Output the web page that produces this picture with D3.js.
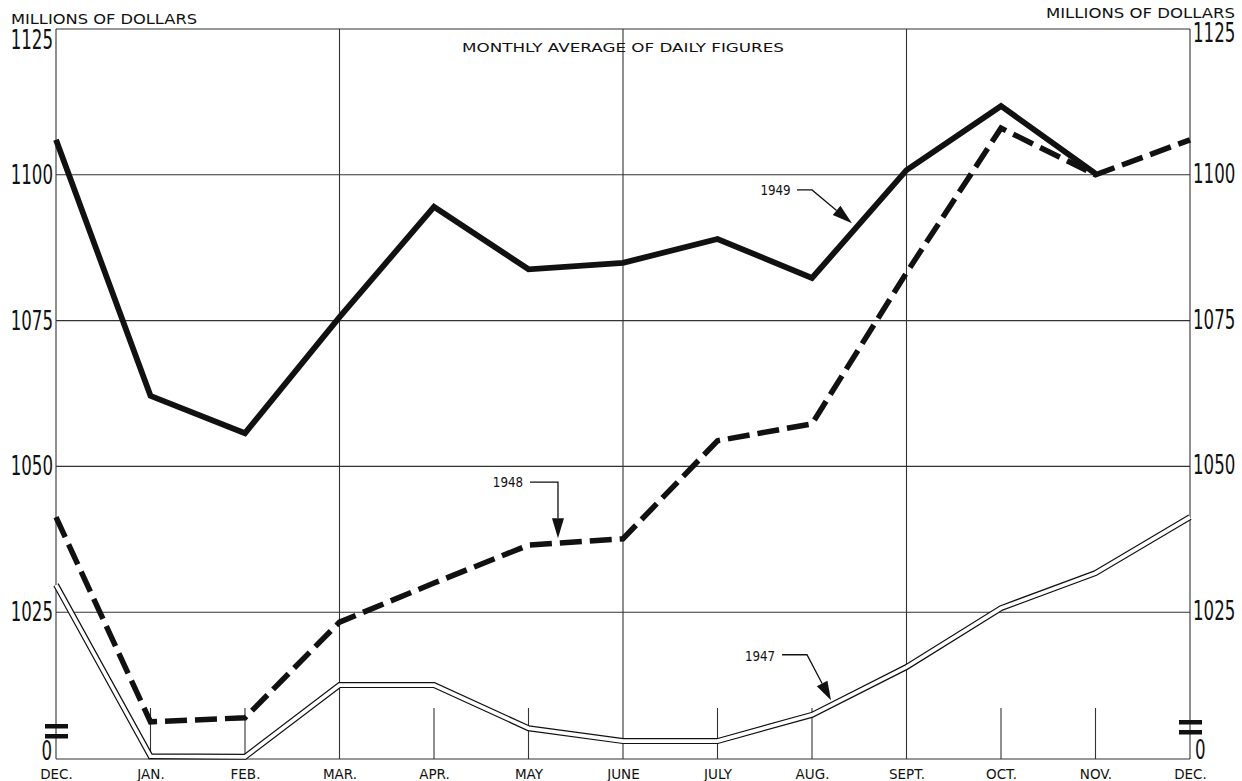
<!DOCTYPE html>
<html><head><meta charset="utf-8">
<script src="https://cdn.jsdelivr.net/npm/d3@7"></script>
<style>body{margin:0;background:#fff}svg{display:block}</style>
</head><body>
<svg id="c" width="1242" height="781"></svg>
<script>
// ---- data ----
const months = ["DEC.","JAN.","FEB.","MAR.","APR.","MAY","JUNE","JULY","AUG.","SEPT.","OCT.","NOV.","DEC."];
const values1947 = [1029.7,1000.3,1000.2,1012.5,1012.5,1005.1,1002.9,1002.9,1007.4,1015.6,1025.7,1031.7,1041.3];
const values1948 = [1041.3,1006.2,1006.9,1023.3,1030.0,1036.5,1037.6,1054.4,1057.3,1083.2,1108.0,1100.0,1106.0];
const values1949 = [1106.0,1062.1,1055.7,1075.6,1094.5,1083.8,1084.9,1089.0,1082.3,1100.8,1111.8,1100.2];
const yTicks = [1025,1050,1075,1100,1125];
const yTickLabels = ["1025","1050","1075","1100","1125"];
const fullGridMonths = [3,6,9];
const seriesLabels = ["1947","1948","1949"];
// annotation positions in data space: [monthIndex, value]
const label1949 = [7.614,1096.5], leader1949 = [[7.841,1097.4],[8.0,1097.4],[8.423,1091.7]];
const label1948 = [4.783,1046.5], leader1948 = [[5.016,1047.3],[5.312,1047.3],[5.312,1037.7]];
const label1947 = [7.45,1016.6],  leader1947 = [[7.683,1017.7],[7.947,1017.7],[8.201,1009.9]];

// ---- scales ----
const svg = d3.select("#c");
const x = d3.scalePoint().domain(d3.range(months.length)).range([56,1190]);
const xl = d3.scaleLinear().domain([0,12]).range([56,1190]);
const y = d3.scaleLinear().domain([1000,1125]).range([758,29]);
const ink = "#111";
const font = "'DejaVu Sans', 'Liberation Sans', sans-serif";

const x0 = x(0), x1 = x(12), yb = y(1000), yt = y(1125);

// frame & grid
const g = svg.append("g").attr("stroke", "#333").attr("stroke-width", 1.1).attr("fill","none");
g.append("line").attr("x1",x0).attr("x2",x1).attr("y1",yt).attr("y2",yt);
g.append("line").attr("x1",x0).attr("x2",x1).attr("y1",yb+1).attr("y2",yb+1);
g.append("line").attr("x1",x0).attr("x2",x0).attr("y1",yt).attr("y2",yb+1);
g.append("line").attr("x1",x1).attr("x2",x1).attr("y1",yt).attr("y2",yb+1);
g.selectAll(".hg").data(yTicks.filter(v=>v<1125)).join("line")
  .attr("x1",x0).attr("x2",x1).attr("y1",d=>y(d)).attr("y2",d=>y(d));
g.selectAll(".vg").data(d3.range(1,12)).join("line")
  .attr("x1",d=>x(d)).attr("x2",d=>x(d))
  .attr("y1",d=>fullGridMonths.includes(d)?yt:yb-50).attr("y2",yb+1);

// axis breaks
[[x0,-11,12,726],[x1,-11,12,722]].forEach(([cx,a,b,yy])=>{
  [0,10].forEach(o=>svg.append("rect").attr("x",cx+a).attr("width",b-a).attr("y",yy+o-2).attr("height",4.5).attr("fill",ink));
});

// y labels (narrow lettering via horizontal scale)
const numSize = 26, sx = 0.64;
function num(X, Y, anchor, t){
  svg.append("text").attr("transform",`translate(${X},${Y}) scale(${sx},1)`)
    .attr("text-anchor",anchor).attr("font-family",font).attr("font-size",numSize).attr("fill",ink).text(t);
}
yTicks.forEach((v,i)=>{
  num(53, v===1125?49:y(v)+9, "end", yTickLabels[i]);
  num(1193, v===1125?42:y(v)+8, "start", yTickLabels[i]);
});
num(52, 760, "end", "0");
num(1195, 759, "start", "0");

// unit labels & title
svg.append("text").attr("x",11).attr("y",24).attr("font-family",font).attr("font-size",14)
  .attr("textLength",186).attr("lengthAdjust","spacingAndGlyphs").attr("fill",ink).text("MILLIONS OF DOLLARS");
svg.append("text").attr("x",1046).attr("y",18).attr("font-family",font).attr("font-size",14)
  .attr("textLength",189).attr("lengthAdjust","spacingAndGlyphs").attr("fill",ink).text("MILLIONS OF DOLLARS");
svg.append("text").attr("x",(x0+x1)/2).attr("y",52).attr("text-anchor","middle").attr("font-family",font)
  .attr("font-size",13).attr("textLength",322).attr("lengthAdjust","spacingAndGlyphs").attr("fill",ink)
  .text("MONTHLY AVERAGE OF DAILY FIGURES");

// month labels via axis
const ax = svg.append("g").attr("transform",`translate(0,${yb})`)
  .call(d3.axisBottom(x).tickSize(0).tickFormat(i=>months[i]));
ax.select(".domain").remove();
ax.selectAll("text").attr("y",21).attr("dy",0).attr("font-family",font).attr("font-size",13.5).attr("fill",ink);

// lines
const line = d3.line().x((d,i)=>x(i)).y(d=>y(d));
svg.append("path").attr("d",line(values1947)).attr("fill","none").attr("stroke",ink).attr("stroke-width",6).attr("stroke-linejoin","miter");
svg.append("path").attr("d",line(values1947)).attr("fill","none").attr("stroke","#fff").attr("stroke-width",3.6).attr("stroke-linejoin","miter");
svg.append("path").attr("d",line(values1948)).attr("fill","none").attr("stroke",ink).attr("stroke-width",5.5)
  .attr("stroke-dasharray","22,8").attr("stroke-linejoin","miter");
svg.append("path").attr("d",line(values1949)).attr("fill","none").attr("stroke",ink).attr("stroke-width",5.8).attr("stroke-linejoin","miter");

// annotations
function annotate(lbl, pts, text, len, hw){
  svg.append("text").attr("transform",`translate(${xl(lbl[0])},${y(lbl[1])}) scale(0.85,1)`).attr("text-anchor","middle")
    .attr("font-family",font).attr("font-size",14).attr("fill",ink).text(text);
  const P = pts.map(p=>[xl(p[0]),y(p[1])]);
  const [a,b] = [P[P.length-2],P[P.length-1]];
  const dx=b[0]-a[0], dy=b[1]-a[1], L=Math.hypot(dx,dy), ux=dx/L, uy=dy/L;
  const base=[b[0]-ux*len,b[1]-uy*len];
  const P2 = P.slice(0,-1).concat([base]);
  svg.append("path").attr("d",d3.line()(P2)).attr("fill","none").attr("stroke",ink).attr("stroke-width",1.3);
  svg.append("path").attr("d",d3.line()([b,[base[0]-uy*hw,base[1]+ux*hw],[base[0]+uy*hw,base[1]-ux*hw]])+"Z").attr("fill",ink);
}
annotate(label1949, leader1949, seriesLabels[2], 20, 6);
annotate(label1948, leader1948, seriesLabels[1], 20, 6);
annotate(label1947, leader1947, seriesLabels[0], 19, 6);
</script>
</body></html>
